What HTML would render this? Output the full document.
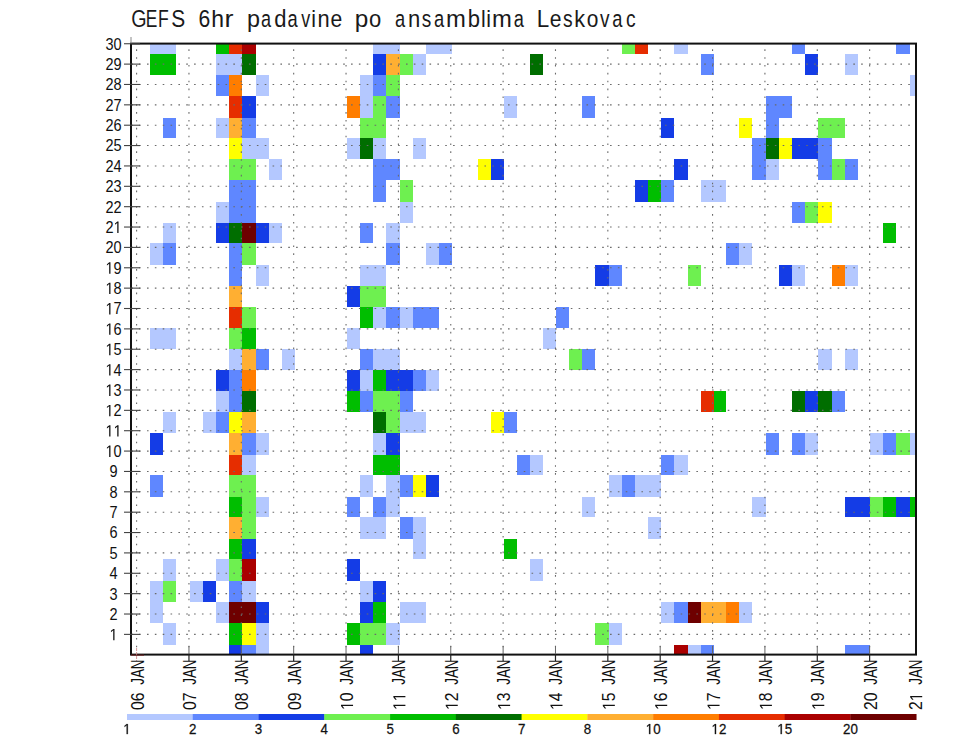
<!DOCTYPE html><html><head><meta charset="utf-8"><style>html,body{margin:0;padding:0;background:#fff;width:960px;height:742px;overflow:hidden}</style></head><body><svg width="960" height="742" viewBox="0 0 960 742" style="position:absolute;left:0;top:0">
<g shape-rendering="crispEdges"><rect x="150.00" y="43.60" width="13.12" height="10.40" fill="#b4c8ff"/><rect x="163.12" y="43.60" width="13.12" height="10.40" fill="#b4c8ff"/><rect x="216.00" y="43.60" width="13.20" height="10.40" fill="#00be00"/><rect x="229.20" y="43.60" width="13.10" height="10.40" fill="#e62d00"/><rect x="242.30" y="43.60" width="13.20" height="10.40" fill="#aa0000"/><rect x="373.20" y="43.60" width="13.00" height="10.40" fill="#b4c8ff"/><rect x="386.20" y="43.60" width="13.30" height="10.40" fill="#b4c8ff"/><rect x="425.90" y="43.60" width="12.90" height="10.40" fill="#b4c8ff"/><rect x="438.80" y="43.60" width="12.90" height="10.40" fill="#b4c8ff"/><rect x="621.60" y="43.60" width="13.20" height="10.40" fill="#6ef050"/><rect x="634.80" y="43.60" width="13.20" height="10.40" fill="#e62d00"/><rect x="674.40" y="43.60" width="13.50" height="10.40" fill="#b4c8ff"/><rect x="792.10" y="43.60" width="13.00" height="10.40" fill="#5f87ff"/><rect x="896.40" y="43.60" width="13.30" height="10.40" fill="#5f87ff"/><rect x="150.00" y="54.00" width="13.12" height="21.35" fill="#00be00"/><rect x="163.12" y="54.00" width="13.12" height="21.35" fill="#00be00"/><rect x="216.00" y="54.00" width="13.20" height="21.35" fill="#b4c8ff"/><rect x="229.20" y="54.00" width="13.10" height="21.35" fill="#b4c8ff"/><rect x="242.30" y="54.00" width="13.20" height="21.35" fill="#006e00"/><rect x="373.20" y="54.00" width="13.00" height="21.35" fill="#143ce6"/><rect x="386.20" y="54.00" width="13.30" height="21.35" fill="#ffaf32"/><rect x="399.50" y="54.00" width="13.30" height="21.35" fill="#6ef050"/><rect x="412.80" y="54.00" width="13.10" height="21.35" fill="#b4c8ff"/><rect x="530.06" y="54.00" width="13.08" height="21.35" fill="#006e00"/><rect x="701.00" y="54.00" width="12.50" height="21.35" fill="#5f87ff"/><rect x="805.10" y="54.00" width="13.00" height="21.35" fill="#143ce6"/><rect x="844.80" y="54.00" width="12.95" height="21.35" fill="#b4c8ff"/><rect x="216.00" y="75.35" width="13.20" height="20.40" fill="#5f87ff"/><rect x="229.20" y="75.35" width="13.10" height="20.40" fill="#ff7d00"/><rect x="255.50" y="75.35" width="13.20" height="20.40" fill="#b4c8ff"/><rect x="360.14" y="75.35" width="13.06" height="20.40" fill="#b4c8ff"/><rect x="373.20" y="75.35" width="13.00" height="20.40" fill="#5f87ff"/><rect x="386.20" y="75.35" width="13.30" height="20.40" fill="#6ef050"/><rect x="909.70" y="75.35" width="6.30" height="20.40" fill="#b4c8ff"/><rect x="229.20" y="95.75" width="13.10" height="21.85" fill="#e62d00"/><rect x="242.30" y="95.75" width="13.20" height="21.85" fill="#143ce6"/><rect x="347.07" y="95.75" width="13.06" height="21.85" fill="#ff7d00"/><rect x="360.14" y="95.75" width="13.06" height="21.85" fill="#b4c8ff"/><rect x="373.20" y="95.75" width="13.00" height="21.85" fill="#6ef050"/><rect x="386.20" y="95.75" width="13.30" height="21.85" fill="#5f87ff"/><rect x="503.90" y="95.75" width="13.08" height="21.85" fill="#b4c8ff"/><rect x="582.37" y="95.75" width="13.08" height="21.85" fill="#5f87ff"/><rect x="765.60" y="95.75" width="13.40" height="21.85" fill="#5f87ff"/><rect x="779.00" y="95.75" width="13.10" height="21.85" fill="#5f87ff"/><rect x="163.12" y="117.60" width="13.12" height="20.30" fill="#5f87ff"/><rect x="216.00" y="117.60" width="13.20" height="20.30" fill="#b4c8ff"/><rect x="229.20" y="117.60" width="13.10" height="20.30" fill="#ffaf32"/><rect x="242.30" y="117.60" width="13.20" height="20.30" fill="#5f87ff"/><rect x="360.14" y="117.60" width="13.06" height="20.30" fill="#6ef050"/><rect x="373.20" y="117.60" width="13.00" height="20.30" fill="#6ef050"/><rect x="661.00" y="117.60" width="13.40" height="20.30" fill="#143ce6"/><rect x="739.10" y="117.60" width="13.30" height="20.30" fill="#ffff00"/><rect x="765.60" y="117.60" width="13.40" height="20.30" fill="#5f87ff"/><rect x="818.10" y="117.60" width="13.50" height="20.30" fill="#6ef050"/><rect x="831.60" y="117.60" width="13.20" height="20.30" fill="#6ef050"/><rect x="229.20" y="137.90" width="13.10" height="21.45" fill="#ffff00"/><rect x="242.30" y="137.90" width="13.20" height="21.45" fill="#b4c8ff"/><rect x="255.50" y="137.90" width="13.20" height="21.45" fill="#b4c8ff"/><rect x="347.07" y="137.90" width="13.06" height="21.45" fill="#b4c8ff"/><rect x="360.14" y="137.90" width="13.06" height="21.45" fill="#006e00"/><rect x="373.20" y="137.90" width="13.00" height="21.45" fill="#b4c8ff"/><rect x="412.80" y="137.90" width="13.10" height="21.45" fill="#b4c8ff"/><rect x="752.40" y="137.90" width="13.20" height="21.45" fill="#5f87ff"/><rect x="765.60" y="137.90" width="13.40" height="21.45" fill="#006e00"/><rect x="779.00" y="137.90" width="13.10" height="21.45" fill="#ffff00"/><rect x="792.10" y="137.90" width="13.00" height="21.45" fill="#143ce6"/><rect x="805.10" y="137.90" width="13.00" height="21.45" fill="#143ce6"/><rect x="818.10" y="137.90" width="13.50" height="21.45" fill="#5f87ff"/><rect x="229.20" y="159.35" width="13.10" height="20.50" fill="#6ef050"/><rect x="242.30" y="159.35" width="13.20" height="20.50" fill="#6ef050"/><rect x="268.70" y="159.35" width="13.06" height="20.50" fill="#b4c8ff"/><rect x="373.20" y="159.35" width="13.00" height="20.50" fill="#5f87ff"/><rect x="386.20" y="159.35" width="13.30" height="20.50" fill="#5f87ff"/><rect x="477.50" y="159.35" width="13.40" height="20.50" fill="#ffff00"/><rect x="490.90" y="159.35" width="13.00" height="20.50" fill="#143ce6"/><rect x="674.40" y="159.35" width="13.50" height="20.50" fill="#143ce6"/><rect x="752.40" y="159.35" width="13.20" height="20.50" fill="#5f87ff"/><rect x="765.60" y="159.35" width="13.40" height="20.50" fill="#b4c8ff"/><rect x="818.10" y="159.35" width="13.50" height="20.50" fill="#5f87ff"/><rect x="831.60" y="159.35" width="13.20" height="20.50" fill="#6ef050"/><rect x="844.80" y="159.35" width="12.95" height="20.50" fill="#5f87ff"/><rect x="229.20" y="179.85" width="13.10" height="21.95" fill="#5f87ff"/><rect x="242.30" y="179.85" width="13.20" height="21.95" fill="#5f87ff"/><rect x="373.20" y="179.85" width="13.00" height="21.95" fill="#5f87ff"/><rect x="399.50" y="179.85" width="13.30" height="21.95" fill="#6ef050"/><rect x="634.80" y="179.85" width="13.20" height="21.95" fill="#143ce6"/><rect x="648.00" y="179.85" width="13.00" height="21.95" fill="#00be00"/><rect x="661.00" y="179.85" width="13.40" height="21.95" fill="#5f87ff"/><rect x="701.00" y="179.85" width="12.50" height="21.95" fill="#b4c8ff"/><rect x="713.50" y="179.85" width="12.50" height="21.95" fill="#b4c8ff"/><rect x="216.00" y="201.80" width="13.20" height="21.40" fill="#b4c8ff"/><rect x="229.20" y="201.80" width="13.10" height="21.40" fill="#5f87ff"/><rect x="242.30" y="201.80" width="13.20" height="21.40" fill="#5f87ff"/><rect x="399.50" y="201.80" width="13.30" height="21.40" fill="#b4c8ff"/><rect x="792.10" y="201.80" width="13.00" height="21.40" fill="#5f87ff"/><rect x="805.10" y="201.80" width="13.00" height="21.40" fill="#6ef050"/><rect x="818.10" y="201.80" width="13.50" height="21.40" fill="#ffff00"/><rect x="163.12" y="223.20" width="13.12" height="20.25" fill="#b4c8ff"/><rect x="216.00" y="223.20" width="13.20" height="20.25" fill="#143ce6"/><rect x="229.20" y="223.20" width="13.10" height="20.25" fill="#006e00"/><rect x="242.30" y="223.20" width="13.20" height="20.25" fill="#6e0000"/><rect x="255.50" y="223.20" width="13.20" height="20.25" fill="#143ce6"/><rect x="268.70" y="223.20" width="13.06" height="20.25" fill="#b4c8ff"/><rect x="360.14" y="223.20" width="13.06" height="20.25" fill="#5f87ff"/><rect x="386.20" y="223.20" width="13.30" height="20.25" fill="#b4c8ff"/><rect x="883.10" y="223.20" width="13.30" height="20.25" fill="#00be00"/><rect x="150.00" y="243.45" width="13.12" height="21.50" fill="#b4c8ff"/><rect x="163.12" y="243.45" width="13.12" height="21.50" fill="#5f87ff"/><rect x="229.20" y="243.45" width="13.10" height="21.50" fill="#5f87ff"/><rect x="242.30" y="243.45" width="13.20" height="21.50" fill="#6ef050"/><rect x="386.20" y="243.45" width="13.30" height="21.50" fill="#5f87ff"/><rect x="425.90" y="243.45" width="12.90" height="21.50" fill="#b4c8ff"/><rect x="438.80" y="243.45" width="12.90" height="21.50" fill="#5f87ff"/><rect x="726.00" y="243.45" width="13.10" height="21.50" fill="#5f87ff"/><rect x="739.10" y="243.45" width="13.30" height="21.50" fill="#b4c8ff"/><rect x="229.20" y="264.95" width="13.10" height="20.70" fill="#5f87ff"/><rect x="255.50" y="264.95" width="13.20" height="20.70" fill="#b4c8ff"/><rect x="360.14" y="264.95" width="13.06" height="20.70" fill="#b4c8ff"/><rect x="373.20" y="264.95" width="13.00" height="20.70" fill="#b4c8ff"/><rect x="595.44" y="264.95" width="13.08" height="20.70" fill="#143ce6"/><rect x="608.52" y="264.95" width="13.08" height="20.70" fill="#5f87ff"/><rect x="687.90" y="264.95" width="13.10" height="20.70" fill="#6ef050"/><rect x="779.00" y="264.95" width="13.10" height="20.70" fill="#143ce6"/><rect x="792.10" y="264.95" width="13.00" height="20.70" fill="#b4c8ff"/><rect x="831.60" y="264.95" width="13.20" height="20.70" fill="#ff7d00"/><rect x="844.80" y="264.95" width="12.95" height="20.70" fill="#b4c8ff"/><rect x="229.20" y="285.65" width="13.10" height="21.45" fill="#ffaf32"/><rect x="347.07" y="285.65" width="13.06" height="21.45" fill="#143ce6"/><rect x="360.14" y="285.65" width="13.06" height="21.45" fill="#6ef050"/><rect x="373.20" y="285.65" width="13.00" height="21.45" fill="#6ef050"/><rect x="229.20" y="307.10" width="13.10" height="21.00" fill="#e62d00"/><rect x="242.30" y="307.10" width="13.20" height="21.00" fill="#6ef050"/><rect x="360.14" y="307.10" width="13.06" height="21.00" fill="#00be00"/><rect x="373.20" y="307.10" width="13.00" height="21.00" fill="#b4c8ff"/><rect x="386.20" y="307.10" width="13.30" height="21.00" fill="#5f87ff"/><rect x="399.50" y="307.10" width="13.30" height="21.00" fill="#b4c8ff"/><rect x="412.80" y="307.10" width="13.10" height="21.00" fill="#5f87ff"/><rect x="425.90" y="307.10" width="12.90" height="21.00" fill="#5f87ff"/><rect x="556.21" y="307.10" width="13.08" height="21.00" fill="#5f87ff"/><rect x="150.00" y="328.10" width="13.12" height="21.30" fill="#b4c8ff"/><rect x="163.12" y="328.10" width="13.12" height="21.30" fill="#b4c8ff"/><rect x="229.20" y="328.10" width="13.10" height="21.30" fill="#6ef050"/><rect x="242.30" y="328.10" width="13.20" height="21.30" fill="#00be00"/><rect x="347.07" y="328.10" width="13.06" height="21.30" fill="#b4c8ff"/><rect x="543.13" y="328.10" width="13.08" height="21.30" fill="#b4c8ff"/><rect x="229.20" y="349.40" width="13.10" height="20.30" fill="#b4c8ff"/><rect x="242.30" y="349.40" width="13.20" height="20.30" fill="#ffaf32"/><rect x="255.50" y="349.40" width="13.20" height="20.30" fill="#5f87ff"/><rect x="281.76" y="349.40" width="13.06" height="20.30" fill="#b4c8ff"/><rect x="360.14" y="349.40" width="13.06" height="20.30" fill="#5f87ff"/><rect x="373.20" y="349.40" width="13.00" height="20.30" fill="#b4c8ff"/><rect x="386.20" y="349.40" width="13.30" height="20.30" fill="#b4c8ff"/><rect x="569.29" y="349.40" width="13.08" height="20.30" fill="#6ef050"/><rect x="582.37" y="349.40" width="13.08" height="20.30" fill="#5f87ff"/><rect x="818.10" y="349.40" width="13.50" height="20.30" fill="#b4c8ff"/><rect x="844.80" y="349.40" width="12.95" height="20.30" fill="#b4c8ff"/><rect x="216.00" y="369.70" width="13.20" height="21.20" fill="#143ce6"/><rect x="229.20" y="369.70" width="13.10" height="21.20" fill="#5f87ff"/><rect x="242.30" y="369.70" width="13.20" height="21.20" fill="#ff7d00"/><rect x="347.07" y="369.70" width="13.06" height="21.20" fill="#143ce6"/><rect x="360.14" y="369.70" width="13.06" height="21.20" fill="#b4c8ff"/><rect x="373.20" y="369.70" width="13.00" height="21.20" fill="#00be00"/><rect x="386.20" y="369.70" width="13.30" height="21.20" fill="#143ce6"/><rect x="399.50" y="369.70" width="13.30" height="21.20" fill="#143ce6"/><rect x="412.80" y="369.70" width="13.10" height="21.20" fill="#5f87ff"/><rect x="425.90" y="369.70" width="12.90" height="21.20" fill="#b4c8ff"/><rect x="216.00" y="390.90" width="13.20" height="21.00" fill="#b4c8ff"/><rect x="229.20" y="390.90" width="13.10" height="21.00" fill="#5f87ff"/><rect x="242.30" y="390.90" width="13.20" height="21.00" fill="#006e00"/><rect x="347.07" y="390.90" width="13.06" height="21.00" fill="#00be00"/><rect x="360.14" y="390.90" width="13.06" height="21.00" fill="#5f87ff"/><rect x="373.20" y="390.90" width="13.00" height="21.00" fill="#6ef050"/><rect x="386.20" y="390.90" width="13.30" height="21.00" fill="#6ef050"/><rect x="399.50" y="390.90" width="13.30" height="21.00" fill="#5f87ff"/><rect x="701.00" y="390.90" width="12.50" height="21.00" fill="#e62d00"/><rect x="713.50" y="390.90" width="12.50" height="21.00" fill="#00be00"/><rect x="792.10" y="390.90" width="13.00" height="21.00" fill="#006e00"/><rect x="805.10" y="390.90" width="13.00" height="21.00" fill="#143ce6"/><rect x="818.10" y="390.90" width="13.50" height="21.00" fill="#006e00"/><rect x="831.60" y="390.90" width="13.20" height="21.00" fill="#5f87ff"/><rect x="163.12" y="411.90" width="13.12" height="21.10" fill="#b4c8ff"/><rect x="202.75" y="411.90" width="13.25" height="21.10" fill="#b4c8ff"/><rect x="216.00" y="411.90" width="13.20" height="21.10" fill="#5f87ff"/><rect x="229.20" y="411.90" width="13.10" height="21.10" fill="#ffff00"/><rect x="242.30" y="411.90" width="13.20" height="21.10" fill="#ffaf32"/><rect x="373.20" y="411.90" width="13.00" height="21.10" fill="#006e00"/><rect x="386.20" y="411.90" width="13.30" height="21.10" fill="#6ef050"/><rect x="399.50" y="411.90" width="13.30" height="21.10" fill="#b4c8ff"/><rect x="412.80" y="411.90" width="13.10" height="21.10" fill="#b4c8ff"/><rect x="490.90" y="411.90" width="13.00" height="21.10" fill="#ffff00"/><rect x="503.90" y="411.90" width="13.08" height="21.10" fill="#5f87ff"/><rect x="150.00" y="433.00" width="13.12" height="21.90" fill="#143ce6"/><rect x="229.20" y="433.00" width="13.10" height="21.90" fill="#ffaf32"/><rect x="242.30" y="433.00" width="13.20" height="21.90" fill="#5f87ff"/><rect x="255.50" y="433.00" width="13.20" height="21.90" fill="#b4c8ff"/><rect x="373.20" y="433.00" width="13.00" height="21.90" fill="#b4c8ff"/><rect x="386.20" y="433.00" width="13.30" height="21.90" fill="#143ce6"/><rect x="765.60" y="433.00" width="13.40" height="21.90" fill="#5f87ff"/><rect x="792.10" y="433.00" width="13.00" height="21.90" fill="#5f87ff"/><rect x="805.10" y="433.00" width="13.00" height="21.90" fill="#b4c8ff"/><rect x="869.80" y="433.00" width="13.30" height="21.90" fill="#b4c8ff"/><rect x="883.10" y="433.00" width="13.30" height="21.90" fill="#5f87ff"/><rect x="896.40" y="433.00" width="13.30" height="21.90" fill="#6ef050"/><rect x="909.70" y="433.00" width="6.30" height="21.90" fill="#b4c8ff"/><rect x="229.20" y="454.90" width="13.10" height="20.20" fill="#e62d00"/><rect x="242.30" y="454.90" width="13.20" height="20.20" fill="#b4c8ff"/><rect x="373.20" y="454.90" width="13.00" height="20.20" fill="#00be00"/><rect x="386.20" y="454.90" width="13.30" height="20.20" fill="#00be00"/><rect x="516.98" y="454.90" width="13.08" height="20.20" fill="#5f87ff"/><rect x="530.06" y="454.90" width="13.08" height="20.20" fill="#b4c8ff"/><rect x="661.00" y="454.90" width="13.40" height="20.20" fill="#5f87ff"/><rect x="674.40" y="454.90" width="13.50" height="20.20" fill="#b4c8ff"/><rect x="150.00" y="475.10" width="13.12" height="21.75" fill="#5f87ff"/><rect x="229.20" y="475.10" width="13.10" height="21.75" fill="#6ef050"/><rect x="242.30" y="475.10" width="13.20" height="21.75" fill="#6ef050"/><rect x="360.14" y="475.10" width="13.06" height="21.75" fill="#b4c8ff"/><rect x="386.20" y="475.10" width="13.30" height="21.75" fill="#b4c8ff"/><rect x="399.50" y="475.10" width="13.30" height="21.75" fill="#5f87ff"/><rect x="412.80" y="475.10" width="13.10" height="21.75" fill="#ffff00"/><rect x="425.90" y="475.10" width="12.90" height="21.75" fill="#143ce6"/><rect x="608.52" y="475.10" width="13.08" height="21.75" fill="#b4c8ff"/><rect x="621.60" y="475.10" width="13.20" height="21.75" fill="#5f87ff"/><rect x="634.80" y="475.10" width="13.20" height="21.75" fill="#b4c8ff"/><rect x="648.00" y="475.10" width="13.00" height="21.75" fill="#b4c8ff"/><rect x="229.20" y="496.85" width="13.10" height="20.55" fill="#00be00"/><rect x="242.30" y="496.85" width="13.20" height="20.55" fill="#6ef050"/><rect x="255.50" y="496.85" width="13.20" height="20.55" fill="#b4c8ff"/><rect x="347.07" y="496.85" width="13.06" height="20.55" fill="#5f87ff"/><rect x="373.20" y="496.85" width="13.00" height="20.55" fill="#5f87ff"/><rect x="386.20" y="496.85" width="13.30" height="20.55" fill="#b4c8ff"/><rect x="582.37" y="496.85" width="13.08" height="20.55" fill="#b4c8ff"/><rect x="752.40" y="496.85" width="13.20" height="20.55" fill="#b4c8ff"/><rect x="844.80" y="496.85" width="12.95" height="20.55" fill="#143ce6"/><rect x="857.75" y="496.85" width="12.05" height="20.55" fill="#143ce6"/><rect x="869.80" y="496.85" width="13.30" height="20.55" fill="#6ef050"/><rect x="883.10" y="496.85" width="13.30" height="20.55" fill="#00be00"/><rect x="896.40" y="496.85" width="13.30" height="20.55" fill="#143ce6"/><rect x="909.70" y="496.85" width="6.30" height="20.55" fill="#00be00"/><rect x="229.20" y="517.40" width="13.10" height="21.40" fill="#ffaf32"/><rect x="242.30" y="517.40" width="13.20" height="21.40" fill="#6ef050"/><rect x="360.14" y="517.40" width="13.06" height="21.40" fill="#b4c8ff"/><rect x="373.20" y="517.40" width="13.00" height="21.40" fill="#b4c8ff"/><rect x="399.50" y="517.40" width="13.30" height="21.40" fill="#5f87ff"/><rect x="412.80" y="517.40" width="13.10" height="21.40" fill="#b4c8ff"/><rect x="648.00" y="517.40" width="13.00" height="21.40" fill="#b4c8ff"/><rect x="229.20" y="538.80" width="13.10" height="20.60" fill="#00be00"/><rect x="242.30" y="538.80" width="13.20" height="20.60" fill="#143ce6"/><rect x="412.80" y="538.80" width="13.10" height="20.60" fill="#b4c8ff"/><rect x="503.90" y="538.80" width="13.08" height="20.60" fill="#00be00"/><rect x="163.12" y="559.40" width="13.12" height="21.30" fill="#b4c8ff"/><rect x="216.00" y="559.40" width="13.20" height="21.30" fill="#b4c8ff"/><rect x="229.20" y="559.40" width="13.10" height="21.30" fill="#6ef050"/><rect x="242.30" y="559.40" width="13.20" height="21.30" fill="#aa0000"/><rect x="347.07" y="559.40" width="13.06" height="21.30" fill="#143ce6"/><rect x="530.06" y="559.40" width="13.08" height="21.30" fill="#b4c8ff"/><rect x="150.00" y="580.70" width="13.12" height="21.20" fill="#b4c8ff"/><rect x="163.12" y="580.70" width="13.12" height="21.20" fill="#6ef050"/><rect x="189.50" y="580.70" width="13.25" height="21.20" fill="#b4c8ff"/><rect x="202.75" y="580.70" width="13.25" height="21.20" fill="#143ce6"/><rect x="229.20" y="580.70" width="13.10" height="21.20" fill="#5f87ff"/><rect x="242.30" y="580.70" width="13.20" height="21.20" fill="#b4c8ff"/><rect x="360.14" y="580.70" width="13.06" height="21.20" fill="#b4c8ff"/><rect x="373.20" y="580.70" width="13.00" height="21.20" fill="#143ce6"/><rect x="150.00" y="601.90" width="13.12" height="21.30" fill="#b4c8ff"/><rect x="216.00" y="601.90" width="13.20" height="21.30" fill="#b4c8ff"/><rect x="229.20" y="601.90" width="13.10" height="21.30" fill="#6e0000"/><rect x="242.30" y="601.90" width="13.20" height="21.30" fill="#6e0000"/><rect x="255.50" y="601.90" width="13.20" height="21.30" fill="#143ce6"/><rect x="360.14" y="601.90" width="13.06" height="21.30" fill="#143ce6"/><rect x="373.20" y="601.90" width="13.00" height="21.30" fill="#00be00"/><rect x="399.50" y="601.90" width="13.30" height="21.30" fill="#b4c8ff"/><rect x="412.80" y="601.90" width="13.10" height="21.30" fill="#b4c8ff"/><rect x="661.00" y="601.90" width="13.40" height="21.30" fill="#b4c8ff"/><rect x="674.40" y="601.90" width="13.50" height="21.30" fill="#5f87ff"/><rect x="687.90" y="601.90" width="13.10" height="21.30" fill="#6e0000"/><rect x="701.00" y="601.90" width="12.50" height="21.30" fill="#ffaf32"/><rect x="713.50" y="601.90" width="12.50" height="21.30" fill="#ffaf32"/><rect x="726.00" y="601.90" width="13.10" height="21.30" fill="#ff7d00"/><rect x="739.10" y="601.90" width="13.30" height="21.30" fill="#b4c8ff"/><rect x="163.12" y="623.20" width="13.12" height="21.50" fill="#b4c8ff"/><rect x="229.20" y="623.20" width="13.10" height="21.50" fill="#00be00"/><rect x="242.30" y="623.20" width="13.20" height="21.50" fill="#ffff00"/><rect x="255.50" y="623.20" width="13.20" height="21.50" fill="#b4c8ff"/><rect x="347.07" y="623.20" width="13.06" height="21.50" fill="#00be00"/><rect x="360.14" y="623.20" width="13.06" height="21.50" fill="#6ef050"/><rect x="373.20" y="623.20" width="13.00" height="21.50" fill="#6ef050"/><rect x="386.20" y="623.20" width="13.30" height="21.50" fill="#b4c8ff"/><rect x="595.44" y="623.20" width="13.08" height="21.50" fill="#6ef050"/><rect x="608.52" y="623.20" width="13.08" height="21.50" fill="#b4c8ff"/><rect x="229.20" y="644.70" width="13.10" height="9.90" fill="#143ce6"/><rect x="242.30" y="644.70" width="13.20" height="9.90" fill="#5f87ff"/><rect x="255.50" y="644.70" width="13.20" height="9.90" fill="#b4c8ff"/><rect x="360.14" y="644.70" width="13.06" height="9.90" fill="#143ce6"/><rect x="674.40" y="644.70" width="13.50" height="9.90" fill="#aa0000"/><rect x="687.90" y="644.70" width="13.10" height="9.90" fill="#b4c8ff"/><rect x="701.00" y="644.70" width="12.50" height="9.90" fill="#5f87ff"/><rect x="844.80" y="644.70" width="12.95" height="9.90" fill="#5f87ff"/><rect x="857.75" y="644.70" width="12.05" height="9.90" fill="#5f87ff"/></g>
<g stroke="#6a6a6a" stroke-width="1.1" stroke-dasharray="1.6 6.248" stroke-dashoffset="-0.3"><line x1="131.0" y1="634.38" x2="916.0" y2="634.38"/><line x1="131.0" y1="614.02" x2="916.0" y2="614.02"/><line x1="131.0" y1="593.65" x2="916.0" y2="593.65"/><line x1="131.0" y1="573.28" x2="916.0" y2="573.28"/><line x1="131.0" y1="552.91" x2="916.0" y2="552.91"/><line x1="131.0" y1="532.55" x2="916.0" y2="532.55"/><line x1="131.0" y1="512.18" x2="916.0" y2="512.18"/><line x1="131.0" y1="491.81" x2="916.0" y2="491.81"/><line x1="131.0" y1="471.45" x2="916.0" y2="471.45"/><line x1="131.0" y1="451.08" x2="916.0" y2="451.08"/><line x1="131.0" y1="430.71" x2="916.0" y2="430.71"/><line x1="131.0" y1="410.35" x2="916.0" y2="410.35"/><line x1="131.0" y1="389.98" x2="916.0" y2="389.98"/><line x1="131.0" y1="369.61" x2="916.0" y2="369.61"/><line x1="131.0" y1="349.25" x2="916.0" y2="349.25"/><line x1="131.0" y1="328.88" x2="916.0" y2="328.88"/><line x1="131.0" y1="308.51" x2="916.0" y2="308.51"/><line x1="131.0" y1="288.14" x2="916.0" y2="288.14"/><line x1="131.0" y1="267.78" x2="916.0" y2="267.78"/><line x1="131.0" y1="247.41" x2="916.0" y2="247.41"/><line x1="131.0" y1="227.04" x2="916.0" y2="227.04"/><line x1="131.0" y1="206.68" x2="916.0" y2="206.68"/><line x1="131.0" y1="186.31" x2="916.0" y2="186.31"/><line x1="131.0" y1="165.94" x2="916.0" y2="165.94"/><line x1="131.0" y1="145.57" x2="916.0" y2="145.57"/><line x1="131.0" y1="125.21" x2="916.0" y2="125.21"/><line x1="131.0" y1="104.84" x2="916.0" y2="104.84"/><line x1="131.0" y1="84.47" x2="916.0" y2="84.47"/><line x1="131.0" y1="64.11" x2="916.0" y2="64.11"/></g>
<g stroke="#6a6a6a" stroke-width="1.1" stroke-dasharray="1.6 6.248" stroke-dashoffset="0.6"><line x1="136.60" y1="654.6" x2="136.60" y2="43.6"/><line x1="188.96" y1="654.6" x2="188.96" y2="43.6"/><line x1="241.32" y1="654.6" x2="241.32" y2="43.6"/><line x1="293.68" y1="654.6" x2="293.68" y2="43.6"/><line x1="346.04" y1="654.6" x2="346.04" y2="43.6"/><line x1="398.40" y1="654.6" x2="398.40" y2="43.6"/><line x1="450.76" y1="654.6" x2="450.76" y2="43.6"/><line x1="503.12" y1="654.6" x2="503.12" y2="43.6"/><line x1="555.48" y1="654.6" x2="555.48" y2="43.6"/><line x1="607.84" y1="654.6" x2="607.84" y2="43.6"/><line x1="660.20" y1="654.6" x2="660.20" y2="43.6"/><line x1="712.56" y1="654.6" x2="712.56" y2="43.6"/><line x1="764.92" y1="654.6" x2="764.92" y2="43.6"/><line x1="817.28" y1="654.6" x2="817.28" y2="43.6"/><line x1="869.64" y1="654.6" x2="869.64" y2="43.6"/></g>
<rect x="131.0" y="43.6" width="785.0" height="611.0" fill="none" stroke="#111" stroke-width="2"/>
<line x1="131.0" y1="37" x2="131.0" y2="43.6" stroke="#888" stroke-width="1"/>
<g stroke="#222" stroke-width="1.2"><line x1="124" y1="634.38" x2="140" y2="634.38" stroke="#444" stroke-width="1.1"/><line x1="124" y1="614.02" x2="140" y2="614.02" stroke="#444" stroke-width="1.1"/><line x1="124" y1="593.65" x2="140" y2="593.65" stroke="#444" stroke-width="1.1"/><line x1="124" y1="573.28" x2="140" y2="573.28" stroke="#444" stroke-width="1.1"/><line x1="124" y1="552.91" x2="140" y2="552.91" stroke="#444" stroke-width="1.1"/><line x1="124" y1="532.55" x2="140" y2="532.55" stroke="#444" stroke-width="1.1"/><line x1="124" y1="512.18" x2="140" y2="512.18" stroke="#444" stroke-width="1.1"/><line x1="124" y1="491.81" x2="140" y2="491.81" stroke="#444" stroke-width="1.1"/><line x1="124" y1="471.45" x2="140" y2="471.45" stroke="#444" stroke-width="1.1"/><line x1="124" y1="451.08" x2="140" y2="451.08" stroke="#444" stroke-width="1.1"/><line x1="124" y1="430.71" x2="140" y2="430.71" stroke="#444" stroke-width="1.1"/><line x1="124" y1="410.35" x2="140" y2="410.35" stroke="#444" stroke-width="1.1"/><line x1="124" y1="389.98" x2="140" y2="389.98" stroke="#444" stroke-width="1.1"/><line x1="124" y1="369.61" x2="140" y2="369.61" stroke="#444" stroke-width="1.1"/><line x1="124" y1="349.25" x2="140" y2="349.25" stroke="#444" stroke-width="1.1"/><line x1="124" y1="328.88" x2="140" y2="328.88" stroke="#444" stroke-width="1.1"/><line x1="124" y1="308.51" x2="140" y2="308.51" stroke="#444" stroke-width="1.1"/><line x1="124" y1="288.14" x2="140" y2="288.14" stroke="#444" stroke-width="1.1"/><line x1="124" y1="267.78" x2="140" y2="267.78" stroke="#444" stroke-width="1.1"/><line x1="124" y1="247.41" x2="140" y2="247.41" stroke="#444" stroke-width="1.1"/><line x1="124" y1="227.04" x2="140" y2="227.04" stroke="#444" stroke-width="1.1"/><line x1="124" y1="206.68" x2="140" y2="206.68" stroke="#444" stroke-width="1.1"/><line x1="124" y1="186.31" x2="140" y2="186.31" stroke="#444" stroke-width="1.1"/><line x1="124" y1="165.94" x2="140" y2="165.94" stroke="#444" stroke-width="1.1"/><line x1="124" y1="145.57" x2="140" y2="145.57" stroke="#444" stroke-width="1.1"/><line x1="124" y1="125.21" x2="140" y2="125.21" stroke="#444" stroke-width="1.1"/><line x1="124" y1="104.84" x2="140" y2="104.84" stroke="#444" stroke-width="1.1"/><line x1="124" y1="84.47" x2="140" y2="84.47" stroke="#444" stroke-width="1.1"/><line x1="124" y1="64.11" x2="140" y2="64.11" stroke="#444" stroke-width="1.1"/><line x1="124" y1="43.74" x2="140" y2="43.74" stroke="#444" stroke-width="1.1"/><line x1="188.96" y1="654" x2="188.96" y2="661"/><line x1="241.32" y1="654" x2="241.32" y2="661"/><line x1="293.68" y1="654" x2="293.68" y2="661"/><line x1="346.04" y1="654" x2="346.04" y2="661"/><line x1="398.40" y1="654" x2="398.40" y2="661"/><line x1="450.76" y1="654" x2="450.76" y2="661"/><line x1="503.12" y1="654" x2="503.12" y2="661"/><line x1="555.48" y1="654" x2="555.48" y2="661"/><line x1="607.84" y1="654" x2="607.84" y2="661"/><line x1="660.20" y1="654" x2="660.20" y2="661"/><line x1="712.56" y1="654" x2="712.56" y2="661"/><line x1="764.92" y1="654" x2="764.92" y2="661"/><line x1="817.28" y1="654" x2="817.28" y2="661"/><line x1="869.64" y1="654" x2="869.64" y2="661"/></g>
<g stroke="#666" stroke-width="1"><line x1="188.96" y1="646" x2="188.96" y2="654"/><line x1="241.32" y1="646" x2="241.32" y2="654"/><line x1="293.68" y1="646" x2="293.68" y2="654"/><line x1="346.04" y1="646" x2="346.04" y2="654"/><line x1="398.40" y1="646" x2="398.40" y2="654"/><line x1="450.76" y1="646" x2="450.76" y2="654"/><line x1="503.12" y1="646" x2="503.12" y2="654"/><line x1="555.48" y1="646" x2="555.48" y2="654"/><line x1="607.84" y1="646" x2="607.84" y2="654"/><line x1="660.20" y1="646" x2="660.20" y2="654"/><line x1="712.56" y1="646" x2="712.56" y2="654"/><line x1="764.92" y1="646" x2="764.92" y2="654"/><line x1="817.28" y1="646" x2="817.28" y2="654"/><line x1="869.64" y1="646" x2="869.64" y2="654"/></g>
<line x1="136.6" y1="648" x2="136.6" y2="661" stroke="#d49a9a" stroke-width="1" stroke-dasharray="3 1"/>
<line x1="131.0" y1="655.1" x2="144" y2="655.1" stroke="#6a1a1a" stroke-width="1"/>
<rect x="127.00" y="714" width="66.07" height="6" fill="#b4c8ff"/><rect x="192.77" y="714" width="66.07" height="6" fill="#5f87ff"/><rect x="258.54" y="714" width="66.07" height="6" fill="#143ce6"/><rect x="324.31" y="714" width="66.07" height="6" fill="#6ef050"/><rect x="390.08" y="714" width="66.07" height="6" fill="#00be00"/><rect x="455.85" y="714" width="66.07" height="6" fill="#006e00"/><rect x="521.62" y="714" width="66.07" height="6" fill="#ffff00"/><rect x="587.39" y="714" width="66.07" height="6" fill="#ffaf32"/><rect x="653.16" y="714" width="66.07" height="6" fill="#ff7d00"/><rect x="718.93" y="714" width="66.07" height="6" fill="#e62d00"/><rect x="784.70" y="714" width="66.07" height="6" fill="#aa0000"/><rect x="850.47" y="714" width="66.07" height="6" fill="#6e0000"/>
<g font-family="Liberation Sans, sans-serif" fill="#111"><g fill="#1a1a1a"><text transform="translate(131.36,26.6) scale(0.838,1)" font-size="23.5">G</text><text transform="translate(145.83,26.6) scale(0.738,1)" font-size="23.5">E</text><text transform="translate(158.06,26.6) scale(0.749,1)" font-size="23.5">F</text><text transform="translate(171.15,26.6) scale(0.891,1)" font-size="23.5">S</text><text transform="translate(198.53,26.6) scale(0.899,1)" font-size="23.5">6</text><text transform="translate(211.21,26.6) scale(0.978,1)" font-size="23.5">h</text><text transform="translate(224.53,26.6) scale(1.150,1)" font-size="23.5">r</text><text transform="translate(247.10,26.6) scale(0.994,1)" font-size="23.5">p</text><text transform="translate(260.93,26.6) scale(0.770,1)" font-size="23.5">a</text><text transform="translate(274.28,26.6) scale(0.937,1)" font-size="23.5">d</text><text transform="translate(287.42,26.6) scale(0.779,1)" font-size="23.5">a</text><text transform="translate(301.19,26.6) scale(0.764,1)" font-size="23.5">v</text><text transform="translate(311.31,26.6) scale(0.900,1)" font-size="23.5">i</text><text transform="translate(317.55,26.6) scale(0.932,1)" font-size="23.5">n</text><text transform="translate(330.60,26.6) scale(0.898,1)" font-size="23.5">e</text><text transform="translate(354.68,26.6) scale(1.036,1)" font-size="23.5">p</text><text transform="translate(368.88,26.6) scale(0.937,1)" font-size="23.5">o</text><text transform="translate(395.02,26.6) scale(0.779,1)" font-size="23.5">a</text><text transform="translate(407.94,26.6) scale(0.937,1)" font-size="23.5">n</text><text transform="translate(421.87,26.6) scale(0.810,1)" font-size="23.5">s</text><text transform="translate(433.92,26.6) scale(0.779,1)" font-size="23.5">a</text><text transform="translate(446.12,26.6) scale(1.014,1)" font-size="23.5">m</text><text transform="translate(467.68,26.6) scale(0.937,1)" font-size="23.5">b</text><text transform="translate(481.05,26.6) scale(0.900,1)" font-size="23.5">l</text><text transform="translate(486.36,26.6) scale(0.900,1)" font-size="23.5">i</text><text transform="translate(491.92,26.6) scale(1.014,1)" font-size="23.5">m</text><text transform="translate(513.63,26.6) scale(0.775,1)" font-size="23.5">a</text><text transform="translate(536.76,26.6) scale(0.955,1)" font-size="23.5">L</text><text transform="translate(549.70,26.6) scale(0.898,1)" font-size="23.5">e</text><text transform="translate(563.06,26.6) scale(0.820,1)" font-size="23.5">s</text><text transform="translate(574.14,26.6) scale(0.921,1)" font-size="23.5">k</text><text transform="translate(586.72,26.6) scale(0.892,1)" font-size="23.5">o</text><text transform="translate(600.03,26.6) scale(0.811,1)" font-size="23.5">v</text><text transform="translate(612.32,26.6) scale(0.779,1)" font-size="23.5">a</text><text transform="translate(625.88,26.6) scale(0.819,1)" font-size="23.5">c</text></g><g transform="translate(113.6,640.28) scale(0.88,1)"><path transform="translate(-4.59,0) scale(0.00806,-0.00806)" d="M515 0L696 0L696 1409L530 1409L197 1180L197 1010L515 1237Z" vector-effect="non-scaling-stroke" /></g><g transform="translate(113.6,619.92) scale(0.88,1)"><text x="-4.59" font-size="16.5" >2</text></g><g transform="translate(113.6,599.55) scale(0.88,1)"><text x="-4.59" font-size="16.5" >3</text></g><g transform="translate(113.6,579.18) scale(0.88,1)"><text x="-4.59" font-size="16.5" >4</text></g><g transform="translate(113.6,558.81) scale(0.88,1)"><text x="-4.59" font-size="16.5" >5</text></g><g transform="translate(113.6,538.45) scale(0.88,1)"><text x="-4.59" font-size="16.5" >6</text></g><g transform="translate(113.6,518.08) scale(0.88,1)"><text x="-4.59" font-size="16.5" >7</text></g><g transform="translate(113.6,497.71) scale(0.88,1)"><text x="-4.59" font-size="16.5" >8</text></g><g transform="translate(113.6,477.35) scale(0.88,1)"><text x="-4.59" font-size="16.5" >9</text></g><g transform="translate(113.6,456.98) scale(0.88,1)"><path transform="translate(-9.18,0) scale(0.00806,-0.00806)" d="M515 0L696 0L696 1409L530 1409L197 1180L197 1010L515 1237Z" vector-effect="non-scaling-stroke" /><text x="0.00" font-size="16.5" >0</text></g><g transform="translate(113.6,436.61) scale(0.88,1)"><path transform="translate(-9.18,0) scale(0.00806,-0.00806)" d="M515 0L696 0L696 1409L530 1409L197 1180L197 1010L515 1237Z" vector-effect="non-scaling-stroke" /><path transform="translate(0.00,0) scale(0.00806,-0.00806)" d="M515 0L696 0L696 1409L530 1409L197 1180L197 1010L515 1237Z" vector-effect="non-scaling-stroke" /></g><g transform="translate(113.6,416.25) scale(0.88,1)"><path transform="translate(-9.18,0) scale(0.00806,-0.00806)" d="M515 0L696 0L696 1409L530 1409L197 1180L197 1010L515 1237Z" vector-effect="non-scaling-stroke" /><text x="0.00" font-size="16.5" >2</text></g><g transform="translate(113.6,395.88) scale(0.88,1)"><path transform="translate(-9.18,0) scale(0.00806,-0.00806)" d="M515 0L696 0L696 1409L530 1409L197 1180L197 1010L515 1237Z" vector-effect="non-scaling-stroke" /><text x="0.00" font-size="16.5" >3</text></g><g transform="translate(113.6,375.51) scale(0.88,1)"><path transform="translate(-9.18,0) scale(0.00806,-0.00806)" d="M515 0L696 0L696 1409L530 1409L197 1180L197 1010L515 1237Z" vector-effect="non-scaling-stroke" /><text x="0.00" font-size="16.5" >4</text></g><g transform="translate(113.6,355.14) scale(0.88,1)"><path transform="translate(-9.18,0) scale(0.00806,-0.00806)" d="M515 0L696 0L696 1409L530 1409L197 1180L197 1010L515 1237Z" vector-effect="non-scaling-stroke" /><text x="0.00" font-size="16.5" >5</text></g><g transform="translate(113.6,334.78) scale(0.88,1)"><path transform="translate(-9.18,0) scale(0.00806,-0.00806)" d="M515 0L696 0L696 1409L530 1409L197 1180L197 1010L515 1237Z" vector-effect="non-scaling-stroke" /><text x="0.00" font-size="16.5" >6</text></g><g transform="translate(113.6,314.41) scale(0.88,1)"><path transform="translate(-9.18,0) scale(0.00806,-0.00806)" d="M515 0L696 0L696 1409L530 1409L197 1180L197 1010L515 1237Z" vector-effect="non-scaling-stroke" /><text x="0.00" font-size="16.5" >7</text></g><g transform="translate(113.6,294.04) scale(0.88,1)"><path transform="translate(-9.18,0) scale(0.00806,-0.00806)" d="M515 0L696 0L696 1409L530 1409L197 1180L197 1010L515 1237Z" vector-effect="non-scaling-stroke" /><text x="0.00" font-size="16.5" >8</text></g><g transform="translate(113.6,273.68) scale(0.88,1)"><path transform="translate(-9.18,0) scale(0.00806,-0.00806)" d="M515 0L696 0L696 1409L530 1409L197 1180L197 1010L515 1237Z" vector-effect="non-scaling-stroke" /><text x="0.00" font-size="16.5" >9</text></g><g transform="translate(113.6,253.31) scale(0.88,1)"><text x="-9.18" font-size="16.5" >2</text><text x="0.00" font-size="16.5" >0</text></g><g transform="translate(113.6,232.94) scale(0.88,1)"><text x="-9.18" font-size="16.5" >2</text><path transform="translate(0.00,0) scale(0.00806,-0.00806)" d="M515 0L696 0L696 1409L530 1409L197 1180L197 1010L515 1237Z" vector-effect="non-scaling-stroke" /></g><g transform="translate(113.6,212.58) scale(0.88,1)"><text x="-9.18" font-size="16.5" >2</text><text x="0.00" font-size="16.5" >2</text></g><g transform="translate(113.6,192.21) scale(0.88,1)"><text x="-9.18" font-size="16.5" >2</text><text x="0.00" font-size="16.5" >3</text></g><g transform="translate(113.6,171.84) scale(0.88,1)"><text x="-9.18" font-size="16.5" >2</text><text x="0.00" font-size="16.5" >4</text></g><g transform="translate(113.6,151.47) scale(0.88,1)"><text x="-9.18" font-size="16.5" >2</text><text x="0.00" font-size="16.5" >5</text></g><g transform="translate(113.6,131.11) scale(0.88,1)"><text x="-9.18" font-size="16.5" >2</text><text x="0.00" font-size="16.5" >6</text></g><g transform="translate(113.6,110.74) scale(0.88,1)"><text x="-9.18" font-size="16.5" >2</text><text x="0.00" font-size="16.5" >7</text></g><g transform="translate(113.6,90.37) scale(0.88,1)"><text x="-9.18" font-size="16.5" >2</text><text x="0.00" font-size="16.5" >8</text></g><g transform="translate(113.6,70.01) scale(0.88,1)"><text x="-9.18" font-size="16.5" >2</text><text x="0.00" font-size="16.5" >9</text></g><g transform="translate(113.6,49.64) scale(0.88,1)"><text x="-9.18" font-size="16.5" >3</text><text x="0.00" font-size="16.5" >0</text></g><text transform="translate(143.60,659.5) rotate(-90) scale(0.765,1)" font-size="17.5" text-anchor="end">JAN</text><g transform="translate(143.60,692.5) rotate(-90) scale(0.9,1)"><text x="-19.47" font-size="17.5" >0</text><text x="-9.73" font-size="17.5" >6</text></g><text transform="translate(195.96,659.5) rotate(-90) scale(0.765,1)" font-size="17.5" text-anchor="end">JAN</text><g transform="translate(195.96,692.5) rotate(-90) scale(0.9,1)"><text x="-19.47" font-size="17.5" >0</text><text x="-9.73" font-size="17.5" >7</text></g><text transform="translate(248.32,659.5) rotate(-90) scale(0.765,1)" font-size="17.5" text-anchor="end">JAN</text><g transform="translate(248.32,692.5) rotate(-90) scale(0.9,1)"><text x="-19.47" font-size="17.5" >0</text><text x="-9.73" font-size="17.5" >8</text></g><text transform="translate(300.68,659.5) rotate(-90) scale(0.765,1)" font-size="17.5" text-anchor="end">JAN</text><g transform="translate(300.68,692.5) rotate(-90) scale(0.9,1)"><text x="-19.47" font-size="17.5" >0</text><text x="-9.73" font-size="17.5" >9</text></g><text transform="translate(353.04,659.5) rotate(-90) scale(0.765,1)" font-size="17.5" text-anchor="end">JAN</text><g transform="translate(353.04,692.5) rotate(-90) scale(0.9,1)"><path transform="translate(-19.47,0) scale(0.00854,-0.00854)" d="M515 0L696 0L696 1409L530 1409L197 1180L197 1010L515 1237Z" vector-effect="non-scaling-stroke" /><text x="-9.73" font-size="17.5" >0</text></g><text transform="translate(405.40,659.5) rotate(-90) scale(0.765,1)" font-size="17.5" text-anchor="end">JAN</text><g transform="translate(405.40,692.5) rotate(-90) scale(0.9,1)"><path transform="translate(-19.47,0) scale(0.00854,-0.00854)" d="M515 0L696 0L696 1409L530 1409L197 1180L197 1010L515 1237Z" vector-effect="non-scaling-stroke" /><path transform="translate(-9.73,0) scale(0.00854,-0.00854)" d="M515 0L696 0L696 1409L530 1409L197 1180L197 1010L515 1237Z" vector-effect="non-scaling-stroke" /></g><text transform="translate(457.76,659.5) rotate(-90) scale(0.765,1)" font-size="17.5" text-anchor="end">JAN</text><g transform="translate(457.76,692.5) rotate(-90) scale(0.9,1)"><path transform="translate(-19.47,0) scale(0.00854,-0.00854)" d="M515 0L696 0L696 1409L530 1409L197 1180L197 1010L515 1237Z" vector-effect="non-scaling-stroke" /><text x="-9.73" font-size="17.5" >2</text></g><text transform="translate(510.12,659.5) rotate(-90) scale(0.765,1)" font-size="17.5" text-anchor="end">JAN</text><g transform="translate(510.12,692.5) rotate(-90) scale(0.9,1)"><path transform="translate(-19.47,0) scale(0.00854,-0.00854)" d="M515 0L696 0L696 1409L530 1409L197 1180L197 1010L515 1237Z" vector-effect="non-scaling-stroke" /><text x="-9.73" font-size="17.5" >3</text></g><text transform="translate(562.48,659.5) rotate(-90) scale(0.765,1)" font-size="17.5" text-anchor="end">JAN</text><g transform="translate(562.48,692.5) rotate(-90) scale(0.9,1)"><path transform="translate(-19.47,0) scale(0.00854,-0.00854)" d="M515 0L696 0L696 1409L530 1409L197 1180L197 1010L515 1237Z" vector-effect="non-scaling-stroke" /><text x="-9.73" font-size="17.5" >4</text></g><text transform="translate(614.84,659.5) rotate(-90) scale(0.765,1)" font-size="17.5" text-anchor="end">JAN</text><g transform="translate(614.84,692.5) rotate(-90) scale(0.9,1)"><path transform="translate(-19.47,0) scale(0.00854,-0.00854)" d="M515 0L696 0L696 1409L530 1409L197 1180L197 1010L515 1237Z" vector-effect="non-scaling-stroke" /><text x="-9.73" font-size="17.5" >5</text></g><text transform="translate(667.20,659.5) rotate(-90) scale(0.765,1)" font-size="17.5" text-anchor="end">JAN</text><g transform="translate(667.20,692.5) rotate(-90) scale(0.9,1)"><path transform="translate(-19.47,0) scale(0.00854,-0.00854)" d="M515 0L696 0L696 1409L530 1409L197 1180L197 1010L515 1237Z" vector-effect="non-scaling-stroke" /><text x="-9.73" font-size="17.5" >6</text></g><text transform="translate(719.56,659.5) rotate(-90) scale(0.765,1)" font-size="17.5" text-anchor="end">JAN</text><g transform="translate(719.56,692.5) rotate(-90) scale(0.9,1)"><path transform="translate(-19.47,0) scale(0.00854,-0.00854)" d="M515 0L696 0L696 1409L530 1409L197 1180L197 1010L515 1237Z" vector-effect="non-scaling-stroke" /><text x="-9.73" font-size="17.5" >7</text></g><text transform="translate(771.92,659.5) rotate(-90) scale(0.765,1)" font-size="17.5" text-anchor="end">JAN</text><g transform="translate(771.92,692.5) rotate(-90) scale(0.9,1)"><path transform="translate(-19.47,0) scale(0.00854,-0.00854)" d="M515 0L696 0L696 1409L530 1409L197 1180L197 1010L515 1237Z" vector-effect="non-scaling-stroke" /><text x="-9.73" font-size="17.5" >8</text></g><text transform="translate(824.28,659.5) rotate(-90) scale(0.765,1)" font-size="17.5" text-anchor="end">JAN</text><g transform="translate(824.28,692.5) rotate(-90) scale(0.9,1)"><path transform="translate(-19.47,0) scale(0.00854,-0.00854)" d="M515 0L696 0L696 1409L530 1409L197 1180L197 1010L515 1237Z" vector-effect="non-scaling-stroke" /><text x="-9.73" font-size="17.5" >9</text></g><text transform="translate(876.64,659.5) rotate(-90) scale(0.765,1)" font-size="17.5" text-anchor="end">JAN</text><g transform="translate(876.64,692.5) rotate(-90) scale(0.9,1)"><text x="-19.47" font-size="17.5" >2</text><text x="-9.73" font-size="17.5" >0</text></g><text transform="translate(922.20,659.5) rotate(-90) scale(0.765,1)" font-size="17.5" text-anchor="end">JAN</text><g transform="translate(922.20,692.5) rotate(-90) scale(0.9,1)"><text x="-19.47" font-size="17.5" >2</text><path transform="translate(-9.73,0) scale(0.00854,-0.00854)" d="M515 0L696 0L696 1409L530 1409L197 1180L197 1010L515 1237Z" vector-effect="non-scaling-stroke" /></g><g transform="translate(127.00,734.1) scale(0.92,1)" stroke="#111" stroke-width="0.25"><path transform="translate(-4.03,0) scale(0.00708,-0.00708)" d="M515 0L696 0L696 1409L530 1409L197 1180L197 1010L515 1237Z" vector-effect="non-scaling-stroke" /></g><g transform="translate(192.77,734.1) scale(0.92,1)" stroke="#111" stroke-width="0.25"><text x="-4.03" font-size="14.5" >2</text></g><g transform="translate(258.54,734.1) scale(0.92,1)" stroke="#111" stroke-width="0.25"><text x="-4.03" font-size="14.5" >3</text></g><g transform="translate(324.31,734.1) scale(0.92,1)" stroke="#111" stroke-width="0.25"><text x="-4.03" font-size="14.5" >4</text></g><g transform="translate(390.08,734.1) scale(0.92,1)" stroke="#111" stroke-width="0.25"><text x="-4.03" font-size="14.5" >5</text></g><g transform="translate(455.85,734.1) scale(0.92,1)" stroke="#111" stroke-width="0.25"><text x="-4.03" font-size="14.5" >6</text></g><g transform="translate(521.62,734.1) scale(0.92,1)" stroke="#111" stroke-width="0.25"><text x="-4.03" font-size="14.5" >7</text></g><g transform="translate(587.39,734.1) scale(0.92,1)" stroke="#111" stroke-width="0.25"><text x="-4.03" font-size="14.5" >8</text></g><g transform="translate(653.16,734.1) scale(0.92,1)" stroke="#111" stroke-width="0.25"><path transform="translate(-8.06,0) scale(0.00708,-0.00708)" d="M515 0L696 0L696 1409L530 1409L197 1180L197 1010L515 1237Z" vector-effect="non-scaling-stroke" /><text x="0.00" font-size="14.5" >0</text></g><g transform="translate(718.93,734.1) scale(0.92,1)" stroke="#111" stroke-width="0.25"><path transform="translate(-8.06,0) scale(0.00708,-0.00708)" d="M515 0L696 0L696 1409L530 1409L197 1180L197 1010L515 1237Z" vector-effect="non-scaling-stroke" /><text x="0.00" font-size="14.5" >2</text></g><g transform="translate(784.70,734.1) scale(0.92,1)" stroke="#111" stroke-width="0.25"><path transform="translate(-8.06,0) scale(0.00708,-0.00708)" d="M515 0L696 0L696 1409L530 1409L197 1180L197 1010L515 1237Z" vector-effect="non-scaling-stroke" /><text x="0.00" font-size="14.5" >5</text></g><g transform="translate(850.47,734.1) scale(0.92,1)" stroke="#111" stroke-width="0.25"><text x="-8.06" font-size="14.5" >2</text><text x="0.00" font-size="14.5" >0</text></g></g>
</svg></body></html>
